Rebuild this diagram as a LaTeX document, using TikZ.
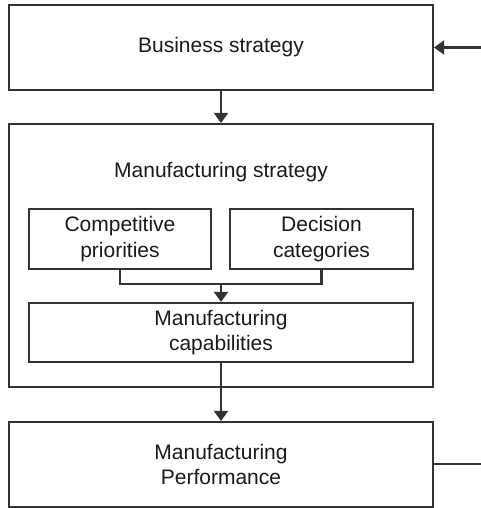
\documentclass[tikz,border=0pt]{standalone}
\usepackage{fontspec}
\setmainfont{Liberation Sans}
\usetikzlibrary{arrows.meta}
\definecolor{ln}{HTML}{333333}
\definecolor{tx}{HTML}{1A1A1A}
\begin{document}
\begin{tikzpicture}[x=1pt,y=-1pt,
  box/.style={draw=ln,line width=2.1pt,rectangle,inner sep=0pt,align=center,text=tx,
    font=\fontsize{21}{25.5}\selectfont},
  lbl/.style={inner sep=0pt,text=tx,font=\fontsize{21}{25.5}\selectfont},
  conn/.style={draw=ln,line width=2.1pt},
  arr/.style={conn,-{Triangle[width=14pt,length=10pt]}}]
\useasboundingbox (0,0) rectangle (481,508);
\node[box,minimum width=424pt,minimum height=85pt] (bs) at (221,47.5) {Business strategy};
\node[box,minimum width=424pt,minimum height=263pt] (ms) at (221,255.5) {};
\node[lbl] (mst) at (221,172) {Manufacturing strategy};
\node[box,minimum width=182pt,minimum height=60pt] (cp) at (120,239) {Competitive\\priorities};
\node[box,minimum width=183pt,minimum height=60pt] (dc) at (321.5,239) {Decision\\categories};
\node[box,minimum width=384pt,minimum height=59pt] (mc) at (221,332.5) {Manufacturing\\capabilities};
\node[box,minimum width=424pt,minimum height=85pt] (mp) at (221,464.5) {Manufacturing\\Performance};
\coordinate (in) at (481,47.5);
\coordinate (out) at (481,464);
\coordinate (j) at (221,283);
\draw[arr] (in) -- (bs.east);
\draw[arr] (bs.south) -- (ms.north);
\draw[conn] (cp.south) -- ++(0,14) -| (dc.south);
\draw[arr] (j) -- (mc.north);
\draw[arr] (mc.south) -- (mp.north);
\draw[conn] (mp.east |- out) -- (out);
\end{tikzpicture}
\end{document}
